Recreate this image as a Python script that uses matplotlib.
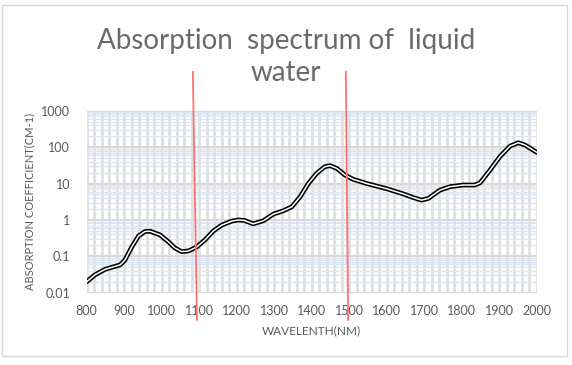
import matplotlib.pyplot as plt
from matplotlib.patches import Rectangle
from matplotlib.ticker import LogLocator, MultipleLocator, FixedLocator
import numpy as np

plt.rcParams['font.family'] = ['Lato', 'DejaVu Sans']

wavelength = [800, 822, 849, 867, 889, 902, 920, 938, 955, 969, 995, 1018, 1035,
              1053, 1071, 1093, 1115, 1138, 1160, 1187, 1205, 1220, 1244, 1271,
              1298, 1324, 1347, 1369, 1391, 1413, 1435, 1449, 1467, 1489, 1511,
              1547, 1600, 1644, 1671, 1693, 1711, 1742, 1769, 1804, 1835, 1849,
              1875, 1902, 1929, 1951, 1969, 2000]
absorption = [0.020, 0.031, 0.044, 0.050, 0.058, 0.079, 0.18, 0.36, 0.48, 0.49,
              0.39, 0.25, 0.17, 0.135, 0.14, 0.18, 0.28, 0.50, 0.72, 0.93, 1.0,
              0.97, 0.78, 0.95, 1.45, 1.78, 2.3, 4.3, 10, 19, 29, 31, 26, 17, 13,
              10, 7.2, 5.2, 4.1, 3.5, 3.9, 6.6, 8.2, 9.1, 9.1, 10.5, 23, 55, 107,
              132, 114, 72]

xticks = [800, 900, 1000, 1100, 1200, 1300, 1400, 1500, 1600, 1700, 1800, 1900, 2000]
yticks = [0.01, 0.1, 1, 10, 100, 1000]
ytick_labels = ['0.01', '0.1', '1', '10', '100', '1000']

# hand-drawn red marker lines (x at top/bottom, y at top/bottom)
marker1_x = [1083, 1094]
marker2_x = [1491, 1497]
marker_y = [1.16e4, 0.0018]

fig = plt.figure(figsize=(5.72, 3.65), dpi=100)
fig.patches.append(Rectangle((2 / 572, 9 / 365), 565 / 572, 351 / 365,
                             transform=fig.transFigure, fill=False,
                             edgecolor='#d9d9d9', lw=1))
ax = fig.add_axes([0.1516, 0.198, 0.7867, 0.4986])
ax.set_yscale('log')
ax.set_xlim(800, 2000)
ax.set_ylim(0.01, 1000)

# grid
ax.xaxis.set_minor_locator(MultipleLocator(20))
ax.yaxis.set_minor_locator(LogLocator(base=10, subs=np.arange(2, 10)))
ax.grid(which='minor', axis='y', color='#dce6f2', lw=1)
ax.grid(which='major', axis='y', color='#d9d9d9', lw=1.5)
ax.grid(which='both', axis='x', color='#e0e0e0', lw=2)
ax.set_axisbelow(True)
for s in ax.spines.values():
    s.set_visible(False)

ax.set_xticks(xticks)
ax.set_xticklabels([str(t) for t in xticks])
ax.yaxis.set_major_locator(FixedLocator(yticks))
ax.set_yticklabels(ytick_labels)
ax.tick_params(which='both', length=0, labelsize=9, labelcolor='#595959')
ax.tick_params(axis='y', pad=12)
ax.tick_params(axis='x', pad=9)

# double line
ax.plot(wavelength, absorption, color='black', lw=3.4, solid_joinstyle='round',
        solid_capstyle='round')
ax.plot(wavelength, absorption, color='white', lw=1.1, solid_joinstyle='round',
        solid_capstyle='round')

# red marker lines
for mx in (marker1_x, marker2_x):
    ax.plot(mx, marker_y, color='#ff7070', lw=1.3, clip_on=False, zorder=5)

ax.set_xlabel('WAVELENTH(NM)', fontsize=8.5, color='#595959', labelpad=6)
ax.set_ylabel('ABSORPTION COEFFICIENT(CM-1)', fontsize=8, color='#595959', labelpad=4)

fig.text(0.5, 0.888, 'Absorption  spectrum of  liquid', ha='center', va='center',
         fontsize=20, color='#6a6a6a')
fig.text(0.5, 0.80, 'water', ha='center', va='center',
         fontsize=20, color='#6a6a6a')

fig.savefig('out.png', dpi=100)
